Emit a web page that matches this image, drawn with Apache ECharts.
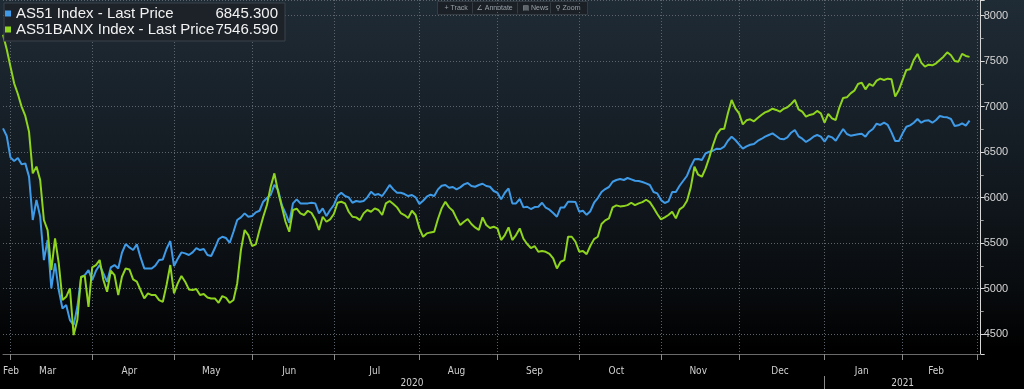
<!DOCTYPE html>
<html>
<head>
<meta charset="utf-8">
<script src="https://cdn.jsdelivr.net/npm/echarts@6/dist/echarts.min.js"></script>
<style>
html,body{margin:0;padding:0;background:#000;}
#chart{width:1024px;height:389px;}
</style>
</head>
<body>
<div id="chart"></div>
<script>
// ---------- DATA ----------
const seriesNames = ['AS51 Index - Last Price', 'AS51BANX Index - Last Price'];
const lastValues = ['6845.300', '7546.590'];
const monthLabels = ['Feb','Mar','Apr','May','Jun','Jul','Aug','Sep','Oct','Nov','Dec','Jan','Feb'];
const yearLabels = ['2020','2021'];
const firstDay = '2020-02-27';
const lastDay = '2021-03-02';

const as51 = [
6761,6677,6442,6402,6435,6365,6376,6230,5753,5973,
5790,5313,5533,5001,5276,4983,4781,4818,4653,4598,
4799,5122,5148,5203,5093,5195,5258,5166,5074,5232,
5258,5221,5393,5489,5452,5423,5485,5342,5221,5221,
5221,5254,5313,5320,5437,5522,5247,5327,5397,5386,
5368,5397,5445,5423,5434,5368,5357,5445,5544,5569,
5555,5503,5624,5753,5782,5826,5789,5797,5837,5855,
5954,5995,6028,6141,6083,5918,5826,5723,5936,5980,
5936,5936,5936,5943,5936,5826,5881,5797,5863,5918,
6017,6053,6017,6002,5943,5962,5954,5962,6002,6064,
6028,6039,6017,6075,6138,6090,6053,6053,6039,6017,
6028,6002,5929,5965,6009,6031,6017,6090,6130,6138,
6108,6116,6090,6112,6145,6160,6127,6119,6138,6152,
6127,6119,6072,6053,5980,6053,6101,5936,5936,5984,
5892,5899,5874,5896,5899,5943,5888,5866,5830,5789,
5892,5892,5954,5954,5951,5844,5855,5810,5850,5943,
5995,6061,6094,6116,6174,6193,6204,6193,6215,6200,
6185,6182,6171,6156,6138,6061,6046,5973,5940,5958,
6061,6061,6130,6185,6240,6339,6420,6424,6413,6486,
6504,6515,6537,6534,6559,6625,6669,6633,6585,6537,
6563,6581,6589,6622,6644,6669,6688,6706,6677,6647,
6640,6662,6713,6743,6673,6647,6611,6636,6669,6688,
6669,6614,6677,6662,6625,6691,6754,6699,6680,6688,
6695,6702,6669,6724,6754,6812,6798,6823,6798,6717,
6622,6622,6706,6779,6794,6823,6864,6823,6845,6849,
6823,6853,6896,6886,6882,6864,6787,6794,6816,6790,
6845.3
];

const as51banx = [
7790,7630,7440,7256,7139,7000,6897,6725,6266,6340,
6193,5753,5643,5203,5551,5276,4873,4909,5001,4488,
4653,5129,5137,4799,5232,5258,5313,5093,4964,5195,
5148,4928,5129,5221,5210,5100,5075,4983,4891,4946,
4928,4928,4873,4854,5038,5258,4946,5056,5137,5075,
4990,4983,4994,4928,4939,4902,4891,4891,4843,4917,
4898,4843,4873,5056,5423,5643,5588,5467,5485,5643,
5789,5918,6119,6266,6064,5899,5734,5624,5863,5877,
5826,5808,5855,5830,5760,5643,5789,5734,5760,5819,
5943,5954,5936,5844,5789,5782,5752,5826,5863,5844,
5881,5863,5808,5936,5962,5930,5892,5830,5808,5775,
5855,5808,5661,5569,5606,5617,5624,5764,5881,5954,
5892,5855,5771,5698,5734,5764,5709,5672,5643,5782,
5698,5665,5679,5661,5533,5588,5672,5533,5588,5661,
5547,5489,5445,5467,5404,5412,5404,5382,5331,5221,
5294,5313,5569,5569,5514,5404,5412,5378,5470,5543,
5569,5709,5749,5771,5892,5914,5903,5906,5917,5943,
5917,5936,5950,5976,5950,5888,5819,5760,5782,5808,
5844,5771,5870,5899,5965,6112,6339,6251,6229,6321,
6442,6578,6695,6750,6757,6926,7073,6981,6926,6805,
6849,6860,6838,6875,6908,6937,6952,6977,6963,6944,
6977,6992,7029,7073,6970,6944,6889,6908,6919,6952,
6926,6823,6919,6871,6853,6992,7095,7102,7146,7175,
7249,7263,7190,7249,7227,7285,7307,7293,7307,7300,
7110,7183,7293,7403,7410,7513,7579,7483,7439,7461,
7454,7476,7513,7549,7597,7564,7502,7494,7579,7557,
7546.59
];

// ---------- CATEGORIES (trading weekdays) ----------
const dates = [];
(function(){
  const d = new Date(firstDay + 'T00:00:00Z');
  const end = new Date(lastDay + 'T00:00:00Z');
  while (d <= end) {
    const wd = d.getUTCDay();
    if (wd !== 0 && wd !== 6) dates.push(d.toISOString().slice(0,10));
    d.setUTCDate(d.getUTCDate() + 1);
  }
})();
const lastDataIdx = Math.max(as51.length, as51banx.length) - 1;

const monthStart = new Set();
const monthLabelAt = {};
const yearLabelAt = {};
const yearStart = new Set();
(function(){
  const groups = [];
  const ygroups = [];
  dates.forEach((d, i) => {
    const m = d.slice(0,7), y = d.slice(0,4);
    if (!groups.length || groups[groups.length-1].k !== m) {
      groups.push({k:m, a:i, b:i});
      if (i > 0) monthStart.add(i);
    } else groups[groups.length-1].b = i;
    if (!ygroups.length || ygroups[ygroups.length-1].k !== y) {
      ygroups.push({k:y, a:i, b:i});
      if (i > 0) yearStart.add(i);
    } else ygroups[ygroups.length-1].b = i;
  });
  let li = 0;
  groups.forEach(g => {
    const b = Math.min(g.b, lastDataIdx);
    if (b < g.a || li >= monthLabels.length) return;
    monthLabelAt[Math.floor((g.a + b) / 2)] = monthLabels[li++];
  });
  ygroups.forEach((g, k) => {
    if (k < yearLabels.length) yearLabelAt[Math.floor((g.a + g.b) / 2)] = yearLabels[k];
  });
})();

const blue = '#3f9be8';
const green = '#8fd41e';
const narrow = '"Liberation Sans Narrow","DejaVu Sans Condensed","Roboto Condensed",sans-serif';
const sans = '"Liberation Sans","DejaVu Sans",sans-serif';

const chart = echarts.init(document.getElementById('chart'), null, {renderer:'canvas'});
chart.setOption({
  animation: false,
  backgroundColor: {
    type:'linear', x:0, y:0, x2:0, y2:1,
    colorStops:[
      {offset:0, color:'#1f2b35'},
      {offset:0.4, color:'#141c23'},
      {offset:0.75, color:'#080b0e'},
      {offset:0.9, color:'#000000'},
      {offset:1, color:'#000000'}
    ]
  },
  grid: {left: 1.5, right: 43.3, top: 0, bottom: 35, containLabel: false},
  legend: {
    left: 4, top: 3, orient: 'vertical',
    icon: 'rect', itemWidth: 6, itemHeight: 6, itemGap: 1,
    backgroundColor: '#1c2228', borderColor: '#3b434b', borderWidth: 1,
    padding: [3, 7, 4, 1],
    selectedMode: false,
    textStyle: {
      color: '#f2f2f2', fontFamily: sans, fontSize: 15,
      rich: {
        n: {width: 200, color:'#f2f2f2', fontFamily: sans, fontSize: 15, lineHeight: 18},
        v: {width: 62, align: 'right', color:'#f2f2f2', fontFamily: sans, fontSize: 15, lineHeight: 18}
      }
    },
    formatter: function(name){
      const k = seriesNames.indexOf(name);
      return '{n|' + name + '}{v|' + lastValues[k] + '}';
    },
    data: seriesNames
  },
  xAxis: [{
    type: 'category', data: dates, boundaryGap: false,
    axisLine: {show: true, lineStyle: {color: '#6a6a6a', width: 1}},
    axisTick: {show: true, length: 6, lineStyle: {color:'#8a8a8a'},
      interval: function(i){ return monthStart.has(i); }},
    axisLabel: {
      color: '#d0d0d0', fontSize: 10, fontFamily: narrow, margin: 12,
      interval: function(i){ return monthLabelAt[i] !== undefined; },
      formatter: function(v, i){ return monthLabelAt[i] || ''; },
      alignMinLabel: 'left', showMinLabel: true, showMaxLabel: true
    },
    splitLine: {show: true, interval: function(i){ return monthStart.has(i); },
      lineStyle: {color: '#5c636b', type: [1, 2], width: 1}}
  }, {
    type: 'category', data: dates, boundaryGap: false, position: 'bottom', offset: 22,
    axisLine: {show: false},
    axisTick: {show: true, length: 14, lineStyle: {color:'#8a8a8a'},
      interval: function(i){ return yearStart.has(i); }},
    axisLabel: {
      color: '#d0d0d0', fontSize: 10, fontFamily: narrow, margin: 2,
      interval: function(i){ return yearLabelAt[i] !== undefined; },
      formatter: function(v, i){ return yearLabelAt[i] || ''; }
    },
    splitLine: {show: false}
  }],
  yAxis: {
    type: 'value', position: 'right', min: 4280, max: 8172, splitNumber: 8,
    axisLine: {show: true, lineStyle: {color: '#d8d8d8', width: 1}},
    axisTick: {show: true, length: 4, lineStyle: {color: '#d8d8d8'}},
    minorTick: {show: true, splitNumber: 2, length: 3, lineStyle: {color: '#9a9a9a'}},
    axisLabel: {color: '#d6d6d6', fontSize: 11, fontFamily: sans, margin: 3,
      showMinLabel: false, showMaxLabel: false,
      formatter: function(v){ return String(Math.round(v)); }},
    splitLine: {show: true, lineStyle: {color: '#5c636b', type: [1, 2], width: 1}}
  },
  graphic: [{
    type: 'group', left: 437, top: 0, silent: true,
    children: [
      {type:'rect', shape:{x:0, y:0, width:150, height:13},
        style:{fill:'#1a2026', stroke:'#343b42', lineWidth:1}},
      {type:'text', x:7, y:3, style:{text:'+ Track', fill:'#9aa1a8', font:'7px ' + sans}},
      {type:'line', shape:{x1:35, y1:1, x2:35, y2:12}, style:{stroke:'#343b42'}},
      {type:'text', x:39, y:3, style:{text:'∠ Annotate', fill:'#9aa1a8', font:'7px ' + sans}},
      {type:'line', shape:{x1:80, y1:1, x2:80, y2:12}, style:{stroke:'#343b42'}},
      {type:'text', x:85, y:3, style:{text:'▤ News', fill:'#9aa1a8', font:'7px ' + sans}},
      {type:'line', shape:{x1:113, y1:1, x2:113, y2:12}, style:{stroke:'#343b42'}},
      {type:'text', x:118, y:3, style:{text:'⚲ Zoom', fill:'#9aa1a8', font:'7px ' + sans}}
    ]
  }],
  series: [{
    name: seriesNames[0], type: 'line', data: as51, symbol: 'none',
    xAxisIndex: 0, yAxisIndex: 0,
    lineStyle: {color: blue, width: 2}, itemStyle: {color: blue},
    markLine: {
      silent: true, symbol: 'none',
      lineStyle: {opacity: 0},
      label: {position: 'end', distance: 2, formatter: lastValues[0],
        backgroundColor: blue, color: '#0d1a28', fontSize: 11, fontFamily: sans,
        padding: [2, 3, 1, 3], borderRadius: 2},
      data: [{yAxis: as51[as51.length-1]}]
    }
  }, {
    name: seriesNames[1], type: 'line', data: as51banx, symbol: 'none',
    xAxisIndex: 0, yAxisIndex: 0,
    lineStyle: {color: green, width: 2}, itemStyle: {color: green},
    markLine: {
      silent: true, symbol: 'none',
      lineStyle: {opacity: 0},
      label: {position: 'end', distance: 2, formatter: lastValues[1],
        backgroundColor: green, color: '#17230a', fontSize: 11, fontFamily: sans,
        padding: [2, 3, 1, 3], borderRadius: 2},
      data: [{yAxis: as51banx[as51banx.length-1]}]
    }
  }]
});
</script>
</body>
</html>
